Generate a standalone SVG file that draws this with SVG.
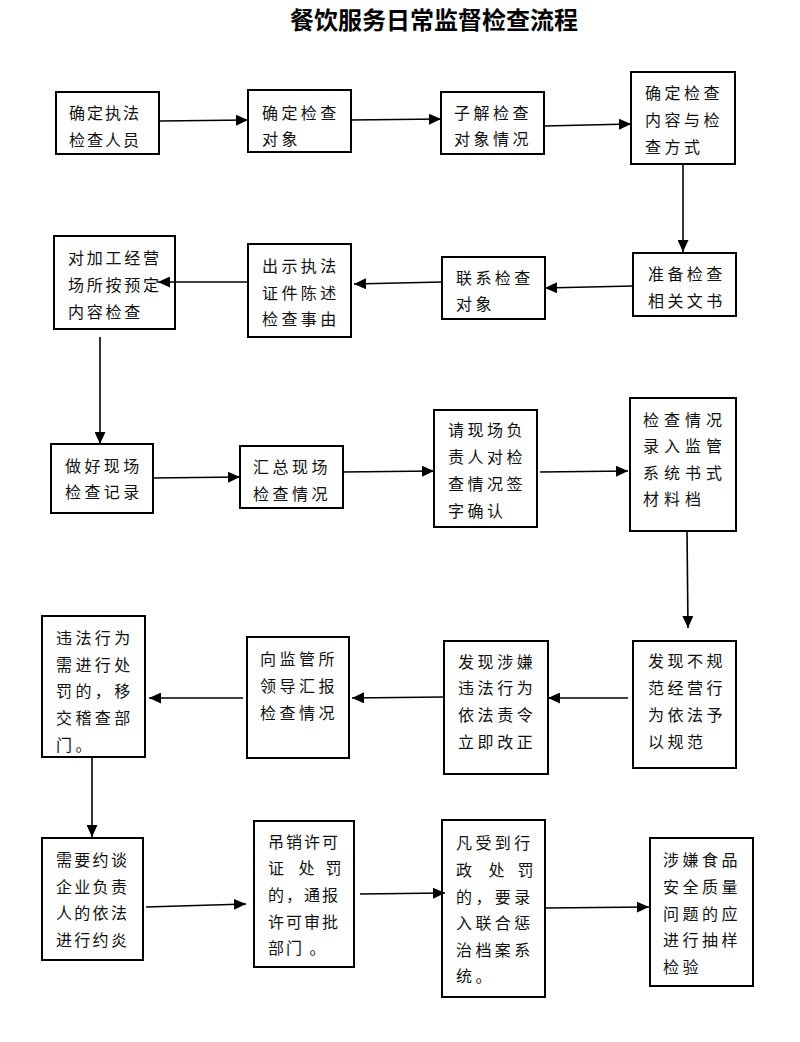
<svg xmlns="http://www.w3.org/2000/svg" width="800" height="1042" viewBox="0 0 800 1042">
<style>
.box{fill:#fff;stroke:#000;stroke-width:2}
.t{font-family:"Noto Sans CJK SC","Liberation Sans",sans-serif;font-size:16px;fill:#111}
.title{font-family:"Noto Sans CJK SC","Liberation Sans",sans-serif;font-size:24px;font-weight:bold;fill:#000}
.c{fill:none;stroke:#000;stroke-width:1.6}
</style>
<defs>
<marker id="ah" markerUnits="userSpaceOnUse" markerWidth="13" markerHeight="11" refX="12" refY="5.5" orient="auto">
<path d="M0,0 L12,5.5 L0,11 z" fill="#000"/>
</marker>
</defs>
<rect width="800" height="1042" fill="#fff"/>
<text class="title" x="434" y="29" text-anchor="middle">餐饮服务日常监督检查流程</text>

<g id="n1"><rect class="box" x="56" y="92" width="103" height="62"/>
<text class="t" x="69" y="119" letter-spacing="2">确定执法</text><text class="t" x="69" y="146" letter-spacing="2">检查人员</text></g>
<g id="n2"><rect class="box" x="248" y="90" width="103" height="62"/>
<text class="t" x="262" y="119" letter-spacing="3.4">确定检查</text><text class="t" x="262" y="145" letter-spacing="3.4">对象</text></g>
<g id="n3"><rect class="box" x="441" y="92" width="103" height="62"/>
<text class="t" x="454" y="119" letter-spacing="3.5">子解检查</text><text class="t" x="454" y="145" letter-spacing="3.5">对象情况</text></g>
<g id="n4"><rect class="box" x="631" y="72" width="104" height="92"/>
<text class="t" x="645" y="99" letter-spacing="3.5">确定检查</text><text class="t" x="645" y="126" letter-spacing="3.5">内容与检</text><text class="t" x="645" y="153" letter-spacing="3.5">查方式</text></g>
<g id="n5"><rect class="box" x="633" y="253" width="103" height="63"/>
<text class="t" x="648" y="280" letter-spacing="3.4">准备检查</text><text class="t" x="648" y="307" letter-spacing="3.4">相关文书</text></g>
<g id="n6"><rect class="box" x="442" y="257" width="103" height="62"/>
<text class="t" x="456" y="284" letter-spacing="3.4">联系检查</text><text class="t" x="456" y="310" letter-spacing="3.4">对象</text></g>
<g id="n7"><rect class="box" x="248" y="244" width="103" height="93"/>
<text class="t" x="262" y="272" letter-spacing="3.4">出示执法</text><text class="t" x="262" y="299" letter-spacing="3.4">证件陈述</text><text class="t" x="262" y="325" letter-spacing="3.4">检查事由</text></g>
<g id="n8"><rect class="box" x="54" y="236" width="121" height="93"/>
<text class="t" x="68" y="264" letter-spacing="2.75">对加工经营</text><text class="t" x="68" y="291" letter-spacing="2.75">场所按预定</text><text class="t" x="68" y="318" letter-spacing="2.75">内容检查</text></g>
<g id="n9"><rect class="box" x="51" y="444" width="102" height="69"/>
<text class="t" x="65" y="472" letter-spacing="3.4">做好现场</text><text class="t" x="65" y="498" letter-spacing="3.4">检查记录</text></g>
<g id="n10"><rect class="box" x="240" y="446" width="103" height="62"/>
<text class="t" x="253" y="473" letter-spacing="3.5">汇总现场</text><text class="t" x="253" y="500" letter-spacing="3.5">检查情况</text></g>
<g id="n11"><rect class="box" x="434" y="410" width="103" height="117"/>
<text class="t" x="448" y="436" letter-spacing="3.5">请现场负</text><text class="t" x="448" y="463" letter-spacing="3.5">责人对检</text><text class="t" x="448" y="490" letter-spacing="3.5">查情况签</text><text class="t" x="448" y="517" letter-spacing="3.5">字确认</text></g>
<g id="n12"><rect class="box" x="630" y="398" width="106" height="133"/>
<text class="t" x="643" y="426" letter-spacing="5">检查情况</text><text class="t" x="643" y="452" letter-spacing="5">录入监管</text><text class="t" x="643" y="479" letter-spacing="5">系统书式</text><text class="t" x="643" y="505" letter-spacing="5">材料档</text></g>
<g id="n13"><rect class="box" x="633" y="641" width="103" height="127"/>
<text class="t" x="648" y="667" letter-spacing="3.5">发现不规</text><text class="t" x="648" y="694" letter-spacing="3.5">范经营行</text><text class="t" x="648" y="721" letter-spacing="3.5">为依法予</text><text class="t" x="648" y="748" letter-spacing="3.5">以规范</text></g>
<g id="n14"><rect class="box" x="444" y="641" width="104" height="133"/>
<text class="t" x="458" y="668" letter-spacing="3.6">发现涉嫌</text><text class="t" x="458" y="694" letter-spacing="3.6">违法行为</text><text class="t" x="458" y="721" letter-spacing="3.6">依法责令</text><text class="t" x="458" y="748" letter-spacing="3.6">立即改正</text></g>
<g id="n15"><rect class="box" x="247" y="637" width="102" height="121"/>
<text class="t" x="260" y="665" letter-spacing="3.5">向监管所</text><text class="t" x="260" y="692" letter-spacing="3.5">领导汇报</text><text class="t" x="260" y="719" letter-spacing="3.5">检查情况</text></g>
<g id="n16"><rect class="box" x="42" y="616" width="103" height="141"/>
<text class="t" x="56" y="644" letter-spacing="3.4">违法行为</text><text class="t" x="56" y="671" letter-spacing="3.4">需进行处</text><text class="t" x="56" y="697" letter-spacing="3.4">罚的，移</text><text class="t" x="56" y="724" letter-spacing="3.4">交稽查部</text><text class="t" x="56" y="751" letter-spacing="3.4">门。</text></g>
<g id="n17"><rect class="box" x="42" y="838" width="101" height="122"/>
<text class="t" x="56" y="866" letter-spacing="2.3">需要约谈</text><text class="t" x="56" y="893" letter-spacing="2.3">企业负责</text><text class="t" x="56" y="919" letter-spacing="2.3">人的依法</text><text class="t" x="56" y="946" letter-spacing="2.3">进行约炎</text></g>
<g id="n18"><rect class="box" x="254" y="821" width="100" height="146"/>
<text class="t" x="268" y="848" letter-spacing="2">吊销许可</text><text class="t" y="874"><tspan x="268">证</tspan><tspan x="295"> 处</tspan><tspan x="322"> 罚</tspan></text><text class="t" x="268" y="901" letter-spacing="2">的，通报</text><text class="t" x="268" y="928" letter-spacing="2">许可审批</text><text class="t" x="268" y="954" letter-spacing="2">部门 。</text></g>
<g id="n19"><rect class="box" x="442" y="820" width="103" height="177"/>
<text class="t" x="456" y="849" letter-spacing="3.4">凡受到行</text><text class="t" y="876"><tspan x="456">政</tspan><tspan x="485"> 处</tspan><tspan x="514"> 罚</tspan></text><text class="t" x="456" y="903" letter-spacing="3.4">的，要录</text><text class="t" x="456" y="929" letter-spacing="3.4">入联合惩</text><text class="t" x="456" y="956" letter-spacing="3.4">治档案系</text><text class="t" x="456" y="982" letter-spacing="3.4">统。</text></g>
<g id="n20"><rect class="box" x="650" y="838" width="103" height="148"/>
<text class="t" x="663" y="866" letter-spacing="3.5">涉嫌食品</text><text class="t" x="663" y="893" letter-spacing="3.5">安全质量</text><text class="t" x="663" y="920" letter-spacing="3.5">问题的应</text><text class="t" x="663" y="946" letter-spacing="3.5">进行抽样</text><text class="t" x="663" y="973" letter-spacing="3.5">检验</text></g>

<g id="connectors">
<line class="c" x1="160" y1="121" x2="248" y2="120" marker-end="url(#ah)"/>
<line class="c" x1="351" y1="120" x2="441" y2="119" marker-end="url(#ah)"/>
<line class="c" x1="544" y1="126" x2="631" y2="124" marker-end="url(#ah)"/>
<line class="c" x1="683" y1="164" x2="683" y2="252" marker-end="url(#ah)"/>
<line class="c" x1="633" y1="286" x2="545" y2="288" marker-end="url(#ah)"/>
<line class="c" x1="442" y1="282" x2="354" y2="284" marker-end="url(#ah)"/>
<line class="c" x1="248" y1="282" x2="158" y2="282" marker-end="url(#ah)"/>
<line class="c" x1="100" y1="337" x2="100" y2="444" marker-end="url(#ah)"/>
<line class="c" x1="153" y1="478" x2="240" y2="477" marker-end="url(#ah)"/>
<line class="c" x1="343" y1="472" x2="434" y2="471" marker-end="url(#ah)"/>
<line class="c" x1="540" y1="472" x2="628" y2="471" marker-end="url(#ah)"/>
<line class="c" x1="687" y1="531" x2="688" y2="628" marker-end="url(#ah)"/>
<line class="c" x1="628" y1="698" x2="548" y2="698" marker-end="url(#ah)"/>
<line class="c" x1="444" y1="697" x2="352" y2="698" marker-end="url(#ah)"/>
<line class="c" x1="243" y1="698" x2="149" y2="698" marker-end="url(#ah)"/>
<line class="c" x1="92" y1="757" x2="92" y2="837" marker-end="url(#ah)"/>
<line class="c" x1="146" y1="907" x2="246" y2="904" marker-end="url(#ah)"/>
<line class="c" x1="360" y1="894" x2="445" y2="893" marker-end="url(#ah)"/>
<line class="c" x1="545" y1="908" x2="649" y2="907" marker-end="url(#ah)"/>
</g>
</svg>
